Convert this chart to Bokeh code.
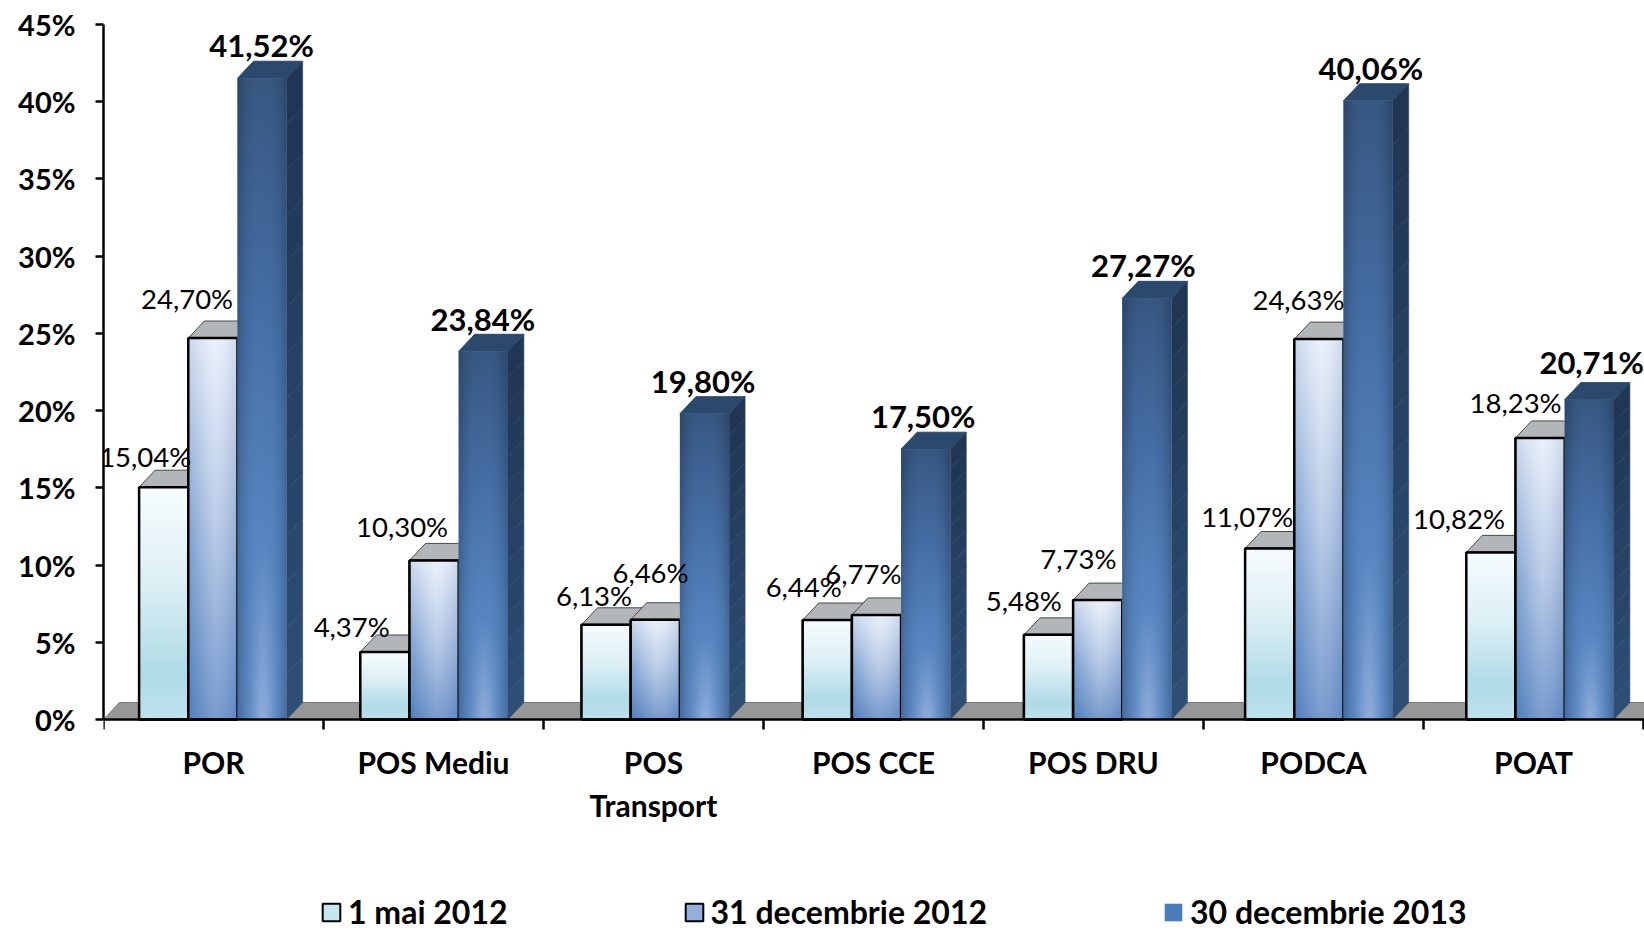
import numpy as np
from bokeh.plotting import figure
from bokeh.embed import file_html
from bokeh.resources import INLINE
from bokeh.core.properties import value
from bokeh.models import FixedTicker, Legend, LegendItem, ColumnDataSource

# ---------- data ----------
categories = ["POR", "POS Mediu", "POS\nTransport", "POS CCE", "POS DRU", "PODCA", "POAT"]
series_names = ["1 mai 2012", "31 decembrie 2012", "30 decembrie 2013"]
mai_2012 = [15.04, 4.37, 6.13, 6.44, 5.48, 11.07, 10.82]
dec_2012 = [24.70, 10.30, 6.46, 6.77, 7.73, 24.63, 18.23]
dec_2013 = [41.52, 23.84, 19.80, 17.50, 27.27, 40.06, 20.71]
y_ticks = [0, 5, 10, 15, 20, 25, 30, 35, 40, 45]
y_tick_labels = ["0%", "5%", "10%", "15%", "20%", "25%", "30%", "35%", "40%", "45%"]

# ---------- hand placement of the value labels (px from bar centre / bar top) ----------
dx_labels = [
    [-18.5, -33.2, -12.1, -23.6, -24.7, -22.5, -31.9],
    [-25.8, -32.0, -4.8, -13.1, -19.3, -20.4, -24.5],
    [-0.5, -0.5, -1.5, -2.5, -3.5, 2.8, 2.4],
]
dy_labels = [
    [30.6, 25.5, 29.8, 33.3, 34.6, 32.1, 33.9],
    [39.7, 33.5, 47.7, 41.9, 41.7, 39.7, 35.8],
    [33.2, 32.5, 33.0, 32.9, 33.0, 32.6, 37.9],
]

# ---------- geometry ----------
PX_PER_CAT = 220.0
PX_PER_PCT = 695 / 45
FRAME_W, FRAME_H = 1541, 907
BAR_PX = 49.2
PITCH = 221.2 / PX_PER_CAT
FIRST = 35.6 / PX_PER_CAT
BW = BAR_PX / PX_PER_CAT
DX = 16 / PX_PER_CAT
DY = 17 / PX_PER_PCT
FONT = "Lato"

p = figure(width=1644, height=931, frame_width=FRAME_W, frame_height=FRAME_H,
           x_range=(0, FRAME_W / PX_PER_CAT), y_range=(45 - FRAME_H / PX_PER_PCT, 45),
           min_border_left=103, min_border_top=24, min_border_right=0, min_border_bottom=0,
           output_backend="svg", toolbar_location=None, tools="")
p.outline_line_color = None
p.grid.visible = False
p.background_fill_color = "white"

# ---------- axes ----------
n = len(categories)
centres = [i + 0.5 for i in range(n)]
p.xaxis.fixed_location = 0
p.xaxis.ticker = FixedTicker(ticks=centres, minor_ticks=list(range(n + 1)))
p.xaxis.major_label_overrides = {c: t for c, t in zip(centres, categories)}
p.xaxis.major_tick_line_color = None
p.xaxis.minor_tick_line_color = "black"
p.xaxis.minor_tick_line_width = 2.5
p.xaxis.minor_tick_in = 0
p.xaxis.minor_tick_out = 10
p.xaxis.axis_line_color = "black"
p.xaxis.axis_line_width = 2.5
p.xaxis.major_label_text_font = FONT
p.xaxis.major_label_text_font_style = "bold"
p.xaxis.major_label_text_font_size = "30px"
p.xaxis.major_label_text_color = "black"
p.xaxis.major_label_standoff = 14
p.xaxis.major_label_orientation = "horizontal"

p.yaxis.bounds = (0, 45)
p.yaxis.ticker = FixedTicker(ticks=y_ticks, minor_ticks=[])
p.yaxis.major_label_overrides = {t: l for t, l in zip(y_ticks, y_tick_labels)}
p.yaxis.major_tick_line_color = "black"
p.yaxis.major_tick_line_width = 2.5
p.yaxis.major_tick_in = 0
p.yaxis.major_tick_out = 8
p.yaxis.axis_line_color = "black"
p.yaxis.axis_line_width = 2.5
p.yaxis.major_label_text_font = FONT
p.yaxis.major_label_text_font_style = "bold"
p.yaxis.major_label_text_font_size = "29px"
p.yaxis.major_label_text_color = "black"
p.yaxis.major_label_standoff = 20

# ---------- floor ----------
xmax = FRAME_W / PX_PER_CAT
p.patch([0, DX, xmax + DX, xmax], [0, DY, DY, 0], fill_color="#979797", line_color="#7a7a7a", line_width=1)


# ---------- gradients (style only) ----------
def lerp_stops(t, stops):
    pos = [s[0] for s in stops]
    return np.stack([np.interp(t, pos, [s[1][k] for s in stops]) for k in range(3)], axis=-1)


def shade_light(u, t):
    return lerp_stops(t, [(0, (247, 252, 254)), (.4, (222, 240, 246)), (.8, (176, 219, 231)), (1, (190, 226, 236))])


def shade_mid(u, t):
    centre = lerp_stops(t, [(0, (236, 242, 251)), (.5, (186, 204, 231)), (1, (122, 156, 206))])
    left = lerp_stops(t, [(0, (204, 217, 238)), (.5, (128, 163, 211)), (1, (78, 126, 188))])
    right = lerp_stops(t, [(0, (205, 216, 236)), (.5, (150, 175, 215)), (1, (95, 136, 196))])
    wl = np.clip(1 - u / 0.55, 0, 1)[..., None] ** 1.3
    wr = np.clip((u - 0.55) / 0.45, 0, 1)[..., None] ** 1.6
    return centre * (1 - wl - wr) + left * wl + right * wr


def shade_dark(u, t):
    base = lerp_stops(t, [(0, (56, 88, 130)), (.35, (70, 110, 165)), (.7, (86, 133, 192)), (1, (90, 136, 196))])
    glow = np.exp(-((u - .52) / .22) ** 2) * np.clip((t - .72) / .28, 0, 1)
    edge = 1 - 0.22 * np.abs(2 * u - 1) ** 3
    out = base * edge[..., None]
    glowc = np.array([142, 172, 218.0])
    return out * (1 - glow[..., None]) + glowc * glow[..., None]


def gradient_image(fn, h_px):
    nx, ny = int(BAR_PX), max(2, int(h_px))
    u, t = np.meshgrid((np.arange(nx) + .5) / nx, (np.arange(ny) + .5) / ny)
    rgb = np.clip(fn(u, t[::-1]), 0, 255).astype(np.uint32)  # image row 0 is the bottom
    return (255 << 24) | (rgb[..., 2] << 16) | (rgb[..., 1] << 8) | rgb[..., 0]


# ---------- bars ----------
series = [mai_2012, dec_2012, dec_2013]
shades = [shade_light, shade_mid, shade_dark]
swatch = ["#C5E6EF", "#92B0DA", "#4A7DB9"]
outlined = [True, True, False]
top_fill = ["#B3B6B8", "#B3B6B8", "#2B486D"]
legend_items = []

for s, vals in enumerate(series):
    left = [FIRST + i * PITCH + s * BW for i in range(n)]
    right = [l + BW for l in left]
    mids = [l + BW / 2 for l in left]

    # side faces of the dark series, banded from top to bottom
    if s == 2:
        for r, v in zip(right, vals):
            edges = np.linspace(0, v, 15)
            for k in range(14):
                f = k / 13
                col = "#%02x%02x%02x" % (int(46 - 14 * f), int(78 - 24 * f), int(116 - 32 * f))
                p.patch([r, r + DX, r + DX, r],
                        [edges[k], edges[k] + DY, edges[k + 1] + DY, edges[k + 1]],
                        fill_color=col, line_color=col, line_width=0.5)

    # top faces
    xs = [[l, l + DX, r + DX, r] for l, r in zip(left, right)]
    ys = [[v, v + DY, v + DY, v] for v in vals]
    p.patches(xs, ys, fill_color=top_fill[s], line_color="#4a4a4a" if outlined[s] else top_fill[s], line_width=1)

    # plain bars, which also feed the legend
    base = p.vbar(x=mids, top=vals, bottom=0, width=BW, fill_color=swatch[s],
                  line_color="black" if outlined[s] else None, line_width=2)
    legend_items.append(LegendItem(label=series_names[s], renderers=[base]))

    # gradient fill
    imgs = [gradient_image(shades[s], v * PX_PER_PCT) for v in vals]
    p.image_rgba(image=imgs, x=left, y=[0] * n, dw=[BW] * n, dh=vals)

    # outline over the fill
    if outlined[s]:
        p.vbar(x=mids, top=vals, bottom=0, width=BW, fill_color=None, line_color="black", line_width=2.5)

# ---------- value labels ----------
for s, vals in enumerate(series):
    mids = [FIRST + i * PITCH + s * BW + BW / 2 for i in range(n)]
    src = ColumnDataSource(dict(x=mids, y=vals,
                                t=[f"{v:.2f}%".replace(".", ",") for v in vals],
                                xo=dx_labels[s], yo=[-d for d in dy_labels[s]]))
    p.text(x="x", y="y", text="t", x_offset="xo", y_offset="yo", source=src,
           text_align="center", text_baseline="middle", text_font=value(FONT),
           text_font_size="31px" if s == 2 else "27.5px",
           text_font_style="bold" if s == 2 else "normal", text_color="black")

# ---------- legend ----------
legend = Legend(items=legend_items, orientation="horizontal", location=(217, 0),
                background_fill_alpha=0, border_line_alpha=0,
                label_text_font=FONT, label_text_font_style="bold", label_text_font_size="32px",
                label_text_color="black", glyph_width=22, glyph_height=22, label_standoff=6,
                spacing=175, margin=0, padding=0)
p.add_layout(legend, "center")

open("out.html", "w").write(file_html(p, INLINE))
